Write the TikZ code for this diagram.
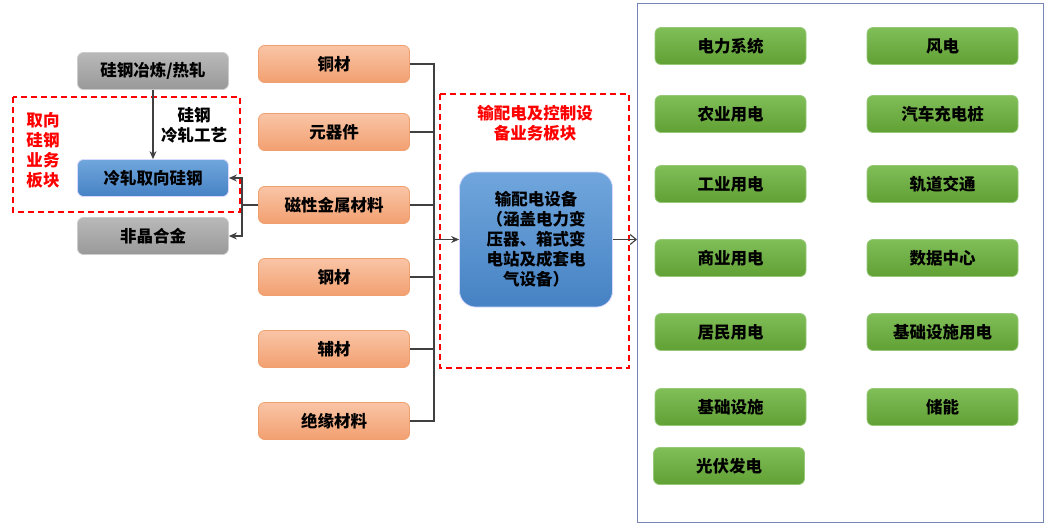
\documentclass[tikz,border=0pt]{standalone}
\usepackage{fontspec}
\setmainfont{Noto Sans CJK SC}
\usetikzlibrary{arrows.meta}
\definecolor{linec}{HTML}{404040}
\definecolor{frameblue}{HTML}{7585B8}
\tikzset{
  box/.style={rounded corners=6pt, minimum width=151pt, minimum height=37pt, inner sep=0pt,
     font=\fontsize{16.5}{20}\selectfont\bfseries, text=black, line width=0.8pt},
  graybox/.style={box, draw=gray!40, top color=gray!55, bottom color=gray!80},
  blueboxs/.style={box, draw=blue!15, top color={rgb,255:red,112;green,166;blue,220}, bottom color={rgb,255:red,70;green,130;blue,196}},
  orangebox/.style={box, draw={rgb,255:red,240;green,160;blue,110}, top color={rgb,255:red,249;green,196;blue,166}, bottom color={rgb,255:red,242;green,160;blue,112}},
  greenbox/.style={box, draw={rgb,255:red,150;green,200;blue,120}, top color={rgb,255:red,128;green,190;blue,88}, bottom color={rgb,255:red,96;green,160;blue,52}},
  bigbox/.style={blueboxs, rounded corners=16pt, minimum width=153pt, minimum height=135pt, align=center},
  conn/.style={draw=linec, line width=1.1pt},
  arr/.style={conn, -{Stealth[length=8pt,width=7pt]}},
  openarr/.style={conn, -{Straight Barb[length=6pt,width=10pt]}},
  redframe/.style={draw=red, line width=1.5pt, dash pattern=on 6pt off 4pt},
  redlabel/.style={text=red, font=\fontsize{16.5}{20}\selectfont\bfseries, align=center, inner sep=0pt},
}
\begin{document}
\begin{tikzpicture}[x=1pt,y=-1pt]
\useasboundingbox[fill=white] (0,0) rectangle (1044,528);
% frames
\draw[frameblue, line width=1pt] (637,3) rectangle (1043,522);
\draw[redframe] (13,97) rectangle (240,212);
\draw[redframe] (440,94) rectangle (629,368);
% left group
\node[graybox] (smelt) at (153,71) {硅钢冶炼/热轧};
\node[blueboxs] (gos) at (153,178) {冷轧取向硅钢};
\node[graybox] (amor) at (153,236) {非晶合金};
\node[redlabel] (lbl1) at (43,150) {取向\\硅钢\\业务\\板块};
\node[font=\fontsize{16.5}{20}\selectfont\bfseries, align=center, inner sep=0pt] (proc) at (194,125) {硅钢\\冷轧工艺};
% orange column
\node[orangebox] (o1) at (334,64) {铜材};
\node[orangebox] (o2) at (334,132) {元器件};
\node[orangebox] (o3) at (334,205) {磁性金属材料};
\node[orangebox] (o4) at (334,277) {钢材};
\node[orangebox] (o5) at (334,349) {辅材};
\node[orangebox] (o6) at (334,421) {绝缘材料};
% big box
\node[bigbox] (big) at (536,239.5) {输配电设备\\（涵盖电力变\\压器、箱式变\\电站及成套电\\气设备）};
\node[redlabel] (lbl2) at (535,123) {输配电及控制设\\备业务板块};
% green boxes
\node[greenbox] (g1) at (730.5,46) {电力系统};
\node[greenbox] (g2) at (730.5,114) {农业用电};
\node[greenbox] (g3) at (730.5,184) {工业用电};
\node[greenbox] (g4) at (730.5,258) {商业用电};
\node[greenbox] (g5) at (730.5,332) {居民用电};
\node[greenbox] (g6) at (730.5,407) {基础设施};
\node[greenbox] (g7) at (729,466) {光伏发电};
\node[greenbox] (h1) at (942.5,46) {风电};
\node[greenbox] (h2) at (942.5,114) {汽车充电桩};
\node[greenbox] (h3) at (942.5,184) {轨道交通};
\node[greenbox] (h4) at (942.5,258) {数据中心};
\node[greenbox] (h5) at (942.5,332) {基础设施用电};
\node[greenbox] (h6) at (942.5,407) {储能};
% connectors left
\draw[arr] (smelt.south) -- (gos.north);
\coordinate (jl) at (242,205);
\draw[conn] (o3.west) -- (jl);
\draw[arr] (jl) |- (gos.east);
\draw[arr] (jl) |- (amor.east);
% bus
\coordinate (bus) at (434,239.5);
\draw[conn] (o1.east) -| (bus);
\draw[conn] (o6.east) -| (bus);
\foreach \n in {o2,o3,o4,o5} \draw[conn] (\n.east) -- (\n.east -| bus);
\draw[arr] (bus) -- (big.west);
\coordinate (fr) at (637,239.5);
\draw[openarr] (big.east) -- (fr);
\end{tikzpicture}
\end{document}
